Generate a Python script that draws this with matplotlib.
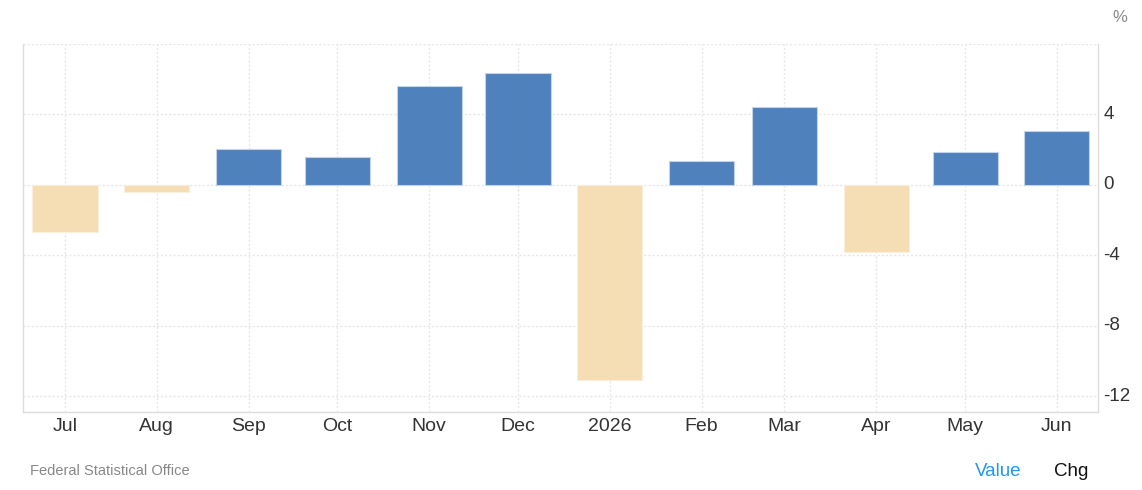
import datetime as dt
import matplotlib
matplotlib.use('Agg')
from matplotlib import pyplot as plt
import matplotlib.dates as mdates

plt.rcParams['font.family'] = ['Liberation Sans', 'DejaVu Sans']
plt.rcParams['axes.unicode_minus'] = False

#Data - monthly change (%)
months = [dt.date(2025, m, 1) for m in range(7, 13)] + [dt.date(2026, m, 1) for m in range(1, 7)]
month_labels = ['Jul', 'Aug', 'Sep', 'Oct', 'Nov', 'Dec', '2026', 'Feb', 'Mar', 'Apr', 'May', 'Jun']
values = [-2.67, -0.42, 2.06, 1.59, 5.63, 6.34, -11.06, 1.34, 4.45, -3.81, 1.85, 3.07]
y_ticks = [4, 0, -4, -8, -12]

blue = '#4f81bd'
beige = '#f5deb3'

fig = plt.figure(figsize=(11.42, 4.9), dpi=100)
ax = fig.add_axes([23/1142, 78/490, 1075/1142, 368/490])

x = mdates.date2num(months)
bar_colors = [blue if v >= 0 else beige for v in values]
edge_colors = ['#c3d3ea' if v >= 0 else '#fbeedb' for v in values]
ax.bar(x, values, width=22, color=bar_colors, edgecolor=edge_colors, linewidth=0.8, zorder=3)

#Axes limits (dates)
ax.set_xlim(x[0] - 14.2, x[-1] + 13.9)
ax.set_ylim(-12.9, 8)

#Grid
ax.set_xticks(x)
ax.set_xticklabels(month_labels)
ax.set_yticks(y_ticks + [8])
ax.set_yticklabels([str(t) for t in y_ticks] + [''])
ax.grid(True, color='#e6e6e6', linestyle=(0, (1.5, 1.5)), linewidth=1, zorder=0)

ax.yaxis.tick_right()
ax.tick_params(axis='x', length=0, pad=4, labelsize=14, labelcolor='#333333')
ax.tick_params(axis='y', length=0, pad=4, labelsize=13.5, labelcolor='#333333')
for lbl in ax.get_yticklabels():
    lbl.set_verticalalignment('center')

for side in ['left', 'right', 'bottom']:
    ax.spines[side].set_color('#dddddd')
    ax.spines[side].set_linewidth(1)
ax.spines['top'].set_visible(False)

#Texts
fig.text(1120/1142, 1 - 17/490, '%', fontsize=12, color='#888888', ha='center', va='center')
fig.text(30/1142, 1 - 471/490, 'Federal Statistical Office', fontsize=10.5, color='#888888', ha='left', va='center')
fig.text(998/1142, 1 - 471/490, 'Value', fontsize=13.5, color='#2196f3', ha='center', va='center')
fig.text(1071/1142, 1 - 471/490, 'Chg', fontsize=13.5, color='#111111', ha='center', va='center')

plt.savefig('out.png', dpi=100)
